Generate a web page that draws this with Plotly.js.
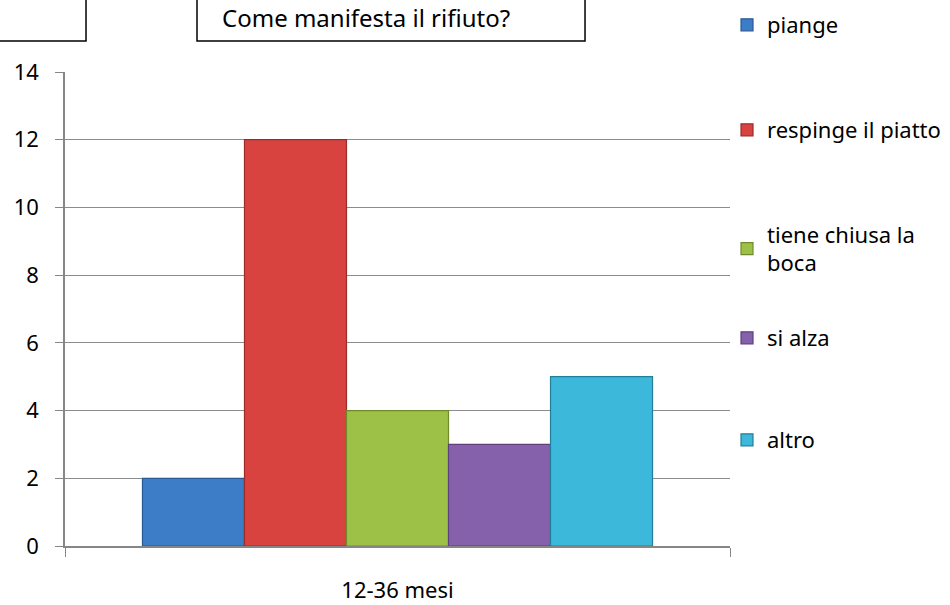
<!DOCTYPE html>
<html>
<head>
<meta charset="utf-8">
<script src="https://cdn.plot.ly/plotly-3.0.1.min.js"></script>
<style>html,body{margin:0;padding:0;background:#fff;}#chart{width:950px;height:605px;}</style>
</head>
<body>
<div id="chart"></div>
<script>
const categories = ["12-36 mesi"];
const seriesNames = ["piange", "respinge il piatto", "tiene chiusa la<br>boca", "si alza", "altro"];
const piange = [2];
const respinge = [12];
const tieneChiusa = [4];
const siAlza = [3];
const altro = [5];
const yTicks = [0, 2, 4, 6, 8, 10, 12, 14];
const chartTitle = "Come manifesta il rifiuto?";

const seriesValues = [piange, respinge, tieneChiusa, siAlza, altro];
const fills = ["#3d7cc7", "#d84340", "#9cc146", "#8561ac", "#3bb8da"];
const edges = ["#2a5a94", "#9b2c2a", "#6f8c2c", "#5c417d", "#237f99"];
const legendY = [1.0992, 0.8776, 0.6266, 0.4388, 0.2236];
const legendIds = ["legend", "legend2", "legend3", "legend4", "legend5"];

const FONT = "Noto Sans, Liberation Sans, sans-serif";
const FS = 22;

const traces = seriesValues.map((vals, i) => ({
  type: "bar",
  name: seriesNames[i],
  x: categories,
  y: vals,
  legend: legendIds[i],
  marker: {color: fills[i], line: {color: edges[i], width: 1.2}},
  hoverinfo: "y+name"
}));

const layout = {
  width: 950,
  height: 605,
  margin: {l: 65, r: 220, t: 72, b: 59, autoexpand: false},
  paper_bgcolor: "#ffffff",
  plot_bgcolor: "#ffffff",
  font: {family: FONT, size: FS, color: "#000000"},
  barmode: "group",
  bargap: 0.233,
  bargroupgap: 0,
  xaxis: {
    type: "category",
    showline: true,
    linecolor: "#868686",
    linewidth: 1.5,
    ticks: "outside",
    tickson: "boundaries",
    ticklen: 9,
    tickcolor: "#868686",
    ticklabelstandoff: 24,
    tickfont: {family: FONT, size: FS, color: "#000"},
    showgrid: false,
    zeroline: false,
    fixedrange: true
  },
  yaxis: {
    range: [0, 14],
    tickvals: yTicks,
    ticktext: yTicks.map(String),
    showline: true,
    linecolor: "#868686",
    linewidth: 1.5,
    ticks: "outside",
    ticklen: 8,
    tickcolor: "#868686",
    ticklabelstandoff: 12,
    showgrid: true,
    gridcolor: "#8c8c8c",
    gridwidth: 1,
    zeroline: false,
    tickfont: {family: FONT, size: FS, color: "#000"},
    fixedrange: true
  },
  showlegend: true,
  shapes: [
    {type: "rect", xref: "paper", yref: "paper", x0: -0.11, x1: 0.0316, y0: 1.0654, y1: 1.25,
     line: {color: "#000", width: 1.5}, fillcolor: "rgba(0,0,0,0)"},
    {type: "rect", xref: "paper", yref: "paper", x0: 0.1985, x1: 0.782, y0: 1.0654, y1: 1.25,
     line: {color: "#000", width: 1.5}, fillcolor: "rgba(0,0,0,0)"}
  ],
  annotations: [
    {text: chartTitle, xref: "paper", yref: "paper", x: 0.233, y: 1.116, xanchor: "left", yanchor: "middle",
     showarrow: false, font: {family: FONT, size: 24, color: "#000"}}
  ]
};

legendIds.forEach((id, i) => {
  layout[id] = {
    x: 0.9955, y: legendY[i], xanchor: "left", yanchor: "middle",
    bgcolor: "rgba(0,0,0,0)", borderwidth: 0,
    font: {family: FONT, size: FS, color: "#000"},
    itemwidth: 30
  };
});

Plotly.newPlot("chart", traces, layout, {displayModeBar: false, responsive: false});
</script>
</body>
</html>
